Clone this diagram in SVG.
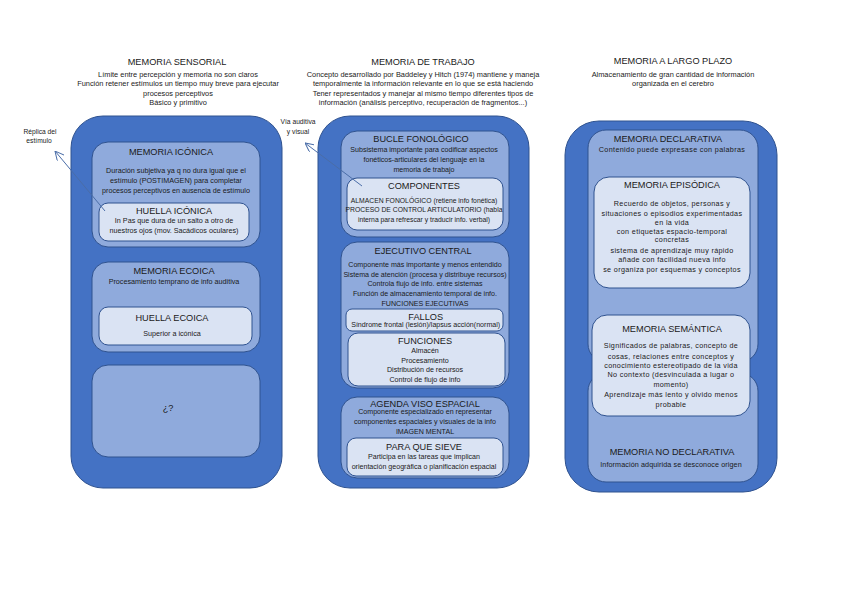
<svg xmlns="http://www.w3.org/2000/svg" width="848" height="599" viewBox="0 0 848 599">
<style>
text{font-family:"Liberation Sans",Arial,sans-serif;fill:#1a1a1a;text-anchor:middle}
.t{font-size:9.2px}
.h{font-size:7.4px}
.b{font-size:7.2px}
.s{font-size:7.1px}
.c{font-size:6.8px}
.l{font-size:6.7px}
.r{font-size:7.2px;letter-spacing:0.35px}
.outer{fill:#4472C4;stroke:#2F528F;stroke-width:1}
.mid{fill:#8FAADC;stroke:#2F528F;stroke-width:1}
.inner{fill:#DAE3F3;stroke:#2F528F;stroke-width:1}
.conn{stroke:#4A6DA8;stroke-width:1;fill:none}
</style>
<defs>
<marker id="arr" viewBox="0 0 10 10" refX="10" refY="5" markerWidth="9" markerHeight="9" markerUnits="userSpaceOnUse" orient="auto">
<path d="M0,0 L10,5 L0,10" fill="none" stroke="#4A6DA8" stroke-width="1.1"/>
</marker>
</defs>
<rect width="848" height="599" fill="#ffffff"/>

<g id="header-sensorial">
<text class="t" x="177" y="65">MEMORIA SENSORIAL</text>
<text class="h" x="178" y="76.5">Límite entre percepción y memoria no son claros</text>
<text class="h" x="178" y="86">Función retener estímulos un tiempo muy breve para ejecutar</text>
<text class="h" x="178" y="95.5">procesos perceptivos</text>
<text class="h" x="178" y="105">Básico y primitivo</text>
</g>
<g id="header-trabajo">
<text class="t" x="423" y="65">MEMORIA DE TRABAJO</text>
<text class="h" x="423" y="76.5">Concepto desarrollado por Baddeley y Hitch (1974) mantiene y maneja</text>
<text class="h" x="423" y="86">temporalmente la información relevante en lo que se está haciendo</text>
<text class="h" x="423" y="95.5">Tener representados y manejar al mismo tiempo diferentes tipos de</text>
<text class="h" x="423" y="105">información (análisis perceptivo, recuperación de fragmentos...)</text>
</g>
<g id="header-largo">
<text class="t" x="673" y="64">MEMORIA A LARGO PLAZO</text>
<text class="h" x="673" y="76.5">Almacenamiento de gran cantidad de información</text>
<text class="h" x="673" y="86">organizada en el cerebro</text>
</g>

<g id="col-sensorial">
<rect class="outer" x="71" y="116" width="211" height="372" rx="32"/>
</g>
<g id="memoria-iconica">
<rect class="mid" x="92" y="142" width="168" height="105" rx="16"/>
<text class="t" x="171" y="155">MEMORIA ICÓNICA</text>
<text class="b" x="176" y="172.5">Duración subjetiva ya q no dura igual que el</text>
<text class="b" x="176" y="182.5">estímulo (POSTIMAGEN) para completar</text>
<text class="b" x="176" y="192.5">procesos perceptivos en ausencia de estímulo</text>
</g>
<g id="huella-iconica">
<rect class="inner" x="99" y="203" width="150" height="38" rx="9"/>
<text class="t" x="174" y="214">HUELLA ICÓNICA</text>
<text class="b" x="174" y="222.5">In Pas que dura de un salto a otro de</text>
<text class="b" x="174" y="232.5">nuestros ojos (mov. Sacádicos oculares)</text>
</g>
<g id="memoria-ecoica">
<rect class="mid" x="92" y="262" width="168" height="90" rx="16"/>
<text class="t" x="174" y="274">MEMORIA ECOICA</text>
<text class="b" x="174" y="283.5">Procesamiento temprano de info auditiva</text>
</g>
<g id="huella-ecoica">
<rect class="inner" x="99" y="307" width="153" height="38" rx="9"/>
<text class="t" x="172" y="321">HUELLA ECOICA</text>
<text class="b" x="172" y="335.5">Superior a icónica</text>
</g>
<g id="desconocido">
<rect class="mid" x="92" y="365" width="168" height="92" rx="16"/>
<text class="t" x="168" y="411">¿?</text>
</g>

<g id="col-trabajo">
<rect class="outer" x="318" y="116" width="211" height="372" rx="32"/>
</g>
<g id="bucle-fonologico">
<rect class="mid" x="341" y="131" width="168" height="106" rx="16"/>
<text class="t" x="421" y="141.5">BUCLE FONOLÓGICO</text>
<text class="s" x="424" y="151.8">Subsistema importante para codificar aspectos</text>
<text class="s" x="424" y="161.8">fonéticos-articulares del lenguaje en la</text>
<text class="s" x="424" y="172">memoria de trabajo</text>
</g>
<g id="componentes">
<rect class="inner" x="347" y="178" width="156" height="52" rx="10"/>
<text class="t" x="424" y="189.3">COMPONENTES</text>
<text class="c" x="424" y="203">ALMACEN FONOLÓGICO (retiene info fonética)</text>
<text class="c" x="424" y="212.3">PROCESO DE CONTROL ARTICULATORIO (habla</text>
<text class="c" x="424" y="221.6">interna para refrescar y traducir info. verbal)</text>
</g>
<g id="ejecutivo-central">
<rect class="mid" x="341" y="242" width="168" height="146" rx="16"/>
<text class="t" x="423" y="254.3">EJECUTIVO CENTRAL</text>
<text class="s" x="425" y="266.6">Componente más importante y menos entendido</text>
<text class="s" x="425" y="276.6">Sistema de atención (procesa y distribuye recursos)</text>
<text class="s" x="425" y="286.3">Controla flujo de info. entre sistemas</text>
<text class="s" x="425" y="295.6">Función de almacenamiento temporal de info.</text>
<text class="s" x="425" y="305.6">FUNCIONES EJECUTIVAS</text>
</g>
<g id="fallos">
<rect class="inner" x="346" y="309" width="157" height="22" rx="6"/>
<text class="t" x="425.7" y="320">FALLOS</text>
<text class="s" x="425.7" y="326.6">Síndrome frontal (lesión)/lapsus acción(normal)</text>
</g>
<g id="funciones">
<rect class="inner" x="348" y="333" width="157" height="53" rx="10"/>
<text class="t" x="425" y="344">FUNCIONES</text>
<text class="s" x="425" y="353">Almacén</text>
<text class="s" x="425" y="363">Procesamiento</text>
<text class="s" x="425" y="372.3">Distribución de recursos</text>
<text class="s" x="425" y="382.3">Control de flujo de info</text>
</g>
<g id="agenda-visoespacial">
<rect class="mid" x="341" y="397" width="168" height="81" rx="16"/>
<text class="t" x="425" y="406.6">AGENDA VISO ESPACIAL</text>
<text class="s" x="425" y="414">Componente especializado en representar</text>
<text class="s" x="425" y="424">componentes espaciales y visuales de la info</text>
<text class="s" x="425" y="434">IMAGEN MENTAL</text>
</g>
<g id="para-que-sieve">
<rect class="inner" x="347" y="438" width="156" height="38" rx="9"/>
<text class="t" x="424" y="450">PARA QUE SIEVE</text>
<text class="s" x="424" y="459">Participa en las tareas que implican</text>
<text class="s" x="424" y="469">orientación geográfica o planificación espacial</text>
</g>

<g id="col-largo">
<rect class="outer" x="565" y="121" width="212" height="371" rx="34"/>
</g>
<g id="memoria-declarativa">
<rect class="mid" x="588" y="130" width="170" height="232" rx="18"/>
<text class="t" x="668" y="142.3">MEMORIA DECLARATIVA</text>
<text class="r" x="672" y="152.3">Contenido puede expresase con palabras</text>
</g>
<g id="memoria-no-declarativa">
<rect class="mid" x="588" y="373" width="170" height="109" rx="18"/>
<text class="t" x="672" y="455">MEMORIA NO DECLARATIVA</text>
<text class="r" x="671" y="467.3" style="letter-spacing:0.1px">Información adquirida se desconoce origen</text>
</g>
<g id="memoria-episodica">
<rect class="inner" x="594" y="177" width="156" height="111" rx="15"/>
<text class="t" x="672" y="188.3">MEMORIA EPISÓDICA</text>
<text class="r" x="672" y="205.6">Recuerdo de objetos, personas y</text>
<text class="r" x="672" y="215.6">situaciones o episodios experimentadas</text>
<text class="r" x="672" y="224.6">en la vida</text>
<text class="r" x="672" y="234">con etiquetas espacio-temporal</text>
<text class="r" x="672" y="242.3">concretas</text>
<text class="r" x="672" y="253.3">sistema de aprendizaje muy rápido</text>
<text class="r" x="672" y="262.3">añade con facilidad nueva info</text>
<text class="r" x="672" y="272.3">se organiza por esquemas y conceptos</text>
</g>
<g id="memoria-semantica">
<rect class="inner" x="592" y="315" width="158" height="101" rx="15"/>
<text class="t" x="672" y="331.6">MEMORIA SEMÁNTICA</text>
<text class="r" x="671" y="348.3">Significados de palabras, concepto de</text>
<text class="r" x="671" y="359">cosas, relaciones entre conceptos y</text>
<text class="r" x="671" y="368">conocimiento estereotipado de la vida</text>
<text class="r" x="671" y="377.3">No contexto (desvinculada a lugar o</text>
<text class="r" x="671" y="387.3">momento)</text>
<text class="r" x="671" y="397.3">Aprendizaje más lento y olvido menos</text>
<text class="r" x="671" y="407.3">probable</text>
</g>

<g id="labels">
<text class="l" x="40" y="133.5">Réplica del</text>
<text class="l" x="39" y="143">estímulo</text>
<text class="l" x="298" y="124">Vía auditiva</text>
<text class="l" x="298" y="134">y visual</text>
</g>
<g id="connectors">
<line class="conn" x1="105" y1="211" x2="55" y2="151" marker-end="url(#arr)"/>
<line class="conn" x1="362" y1="186" x2="305" y2="143" marker-end="url(#arr)"/>
</g>
</svg>
